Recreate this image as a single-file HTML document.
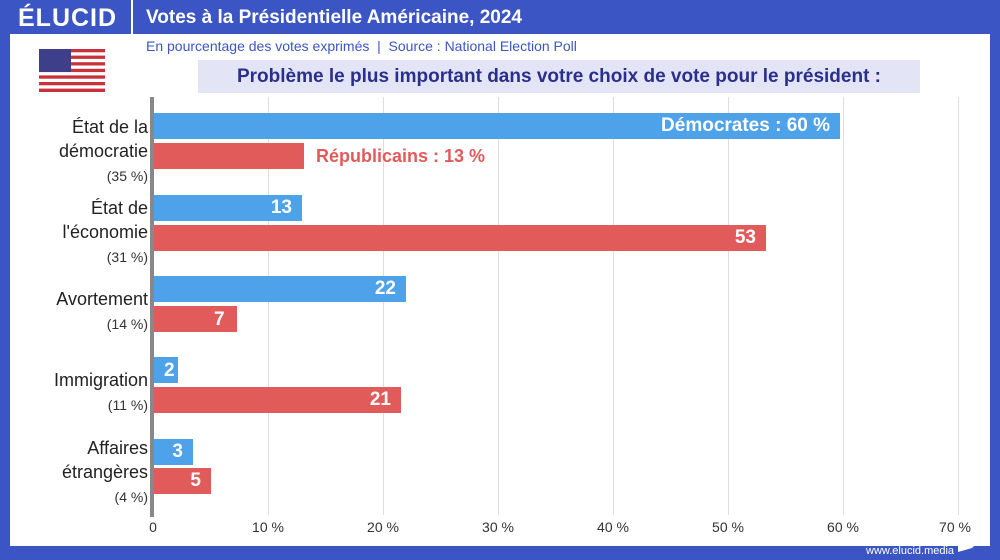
<!DOCTYPE html>
<html><head><meta charset="utf-8"><style>
body{margin:0;width:1000px;height:560px;overflow:hidden;background:#3c55c4;font-family:"Liberation Sans",sans-serif;position:relative}
.frame{position:absolute;left:10px;top:34px;width:980px;height:512px;background:#fff}
.a{position:absolute}
.bar{position:absolute;height:26px}
.b{background:#4da2ea}.r{background:#e25b5b}
.bl{color:#fff;font-weight:bold;font-size:19px;position:absolute;right:10px;top:2px}
.lab{position:absolute;right:852px;text-align:right;color:#222;font-size:18px;line-height:24px}
.lab small{font-size:14px;color:#333}
.grid{position:absolute;top:97px;width:1px;height:418px;background:#ddd}
.tk{position:absolute;top:519px;font-size:14px;color:#333;width:60px;margin-left:-30px;text-align:center}
</style></head><body>
<div class="frame"></div>
<div class="a" style="left:18px;top:4px;color:#fff;font-weight:bold;font-size:25px;letter-spacing:1px">ÉLUCID</div>
<div class="a" style="left:131px;top:0;width:2px;height:34px;background:#fff"></div>
<div class="a" style="left:146px;top:7px;color:#fff;font-weight:bold;font-size:19px">Votes à la Présidentielle Américaine, 2024</div>
<div class="a" style="left:146px;top:38px;color:#3c55c4;font-size:14px">En pourcentage des votes exprimés &nbsp;|&nbsp; Source : National Election Poll</div>
<svg class="a" style="left:39px;top:49px" width="66" height="43"><rect width="66" height="43" fill="#fff"/><g fill="#c8323a"><rect y="0" width="66" height="3.3"/><rect y="6.6" width="66" height="3.3"/><rect y="13.2" width="66" height="3.3"/><rect y="19.8" width="66" height="3.3"/><rect y="26.4" width="66" height="3.3"/><rect y="33" width="66" height="3.3"/><rect y="39.6" width="66" height="3.4"/></g><rect width="32" height="23" fill="#3d3f8a"/></svg>
<div class="a" style="left:198px;top:60px;width:722px;height:33px;background:#e3e5f7;color:#2a2f8c;font-weight:bold;font-size:19px;line-height:33px;text-align:center">Problème le plus important dans votre choix de vote pour le président :</div>
<div class="grid" style="left:268px"></div><div class="grid" style="left:383px"></div><div class="grid" style="left:498px"></div><div class="grid" style="left:613px"></div><div class="grid" style="left:728px"></div><div class="grid" style="left:843px"></div><div class="grid" style="left:958px"></div>
<div class="a" style="left:150px;top:97px;width:4px;height:420px;background:#888"></div>
<div class="tk" style="left:153px">0</div><div class="tk" style="left:268px">10 %</div><div class="tk" style="left:383px">20 %</div><div class="tk" style="left:498px">30 %</div><div class="tk" style="left:613px">40 %</div><div class="tk" style="left:728px">50 %</div><div class="tk" style="left:843px">60 %</div><div class="tk" style="left:955px">70 %</div>

<div class="bar b" style="left:154px;top:113px;width:686px"><span class="bl">Démocrates : 60 %</span></div>
<div class="bar r" style="left:154px;top:143px;width:150px"></div>
<div class="a" style="left:316px;top:146px;color:#e25b5b;font-weight:bold;font-size:18px">Républicains : 13 %</div>
<div class="bar b" style="left:154px;top:195px;width:148px"><span class="bl">13</span></div>
<div class="bar r" style="left:154px;top:225px;width:612px"><span class="bl">53</span></div>
<div class="bar b" style="left:154px;top:276px;width:252px"><span class="bl">22</span></div>
<div class="bar r" style="left:154px;top:306px;width:83px"></div>
<div class="a" style="left:214px;top:309px;color:#fff;font-weight:bold;font-size:19px">7</div>
<div class="bar b" style="left:154px;top:357px;width:24px"></div>
<div class="a" style="left:164px;top:360px;color:#fff;font-weight:bold;font-size:19px">2</div>
<div class="bar r" style="left:154px;top:387px;width:247px"><span class="bl">21</span></div>
<div class="bar b" style="left:154px;top:439px;width:39px"><span class="bl">3</span></div>
<div class="bar r" style="left:154px;top:468px;width:57px"><span class="bl">5</span></div>

<div class="lab" style="top:115px">État de la<br>démocratie<br><small>(35 %)</small></div>
<div class="lab" style="top:196px">État de<br>l'économie<br><small>(31 %)</small></div>
<div class="lab" style="top:287px">Avortement<br><small>(14 %)</small></div>
<div class="lab" style="top:368px">Immigration<br><small>(11 %)</small></div>
<div class="lab" style="top:436px">Affaires<br>étrangères<br><small>(4 %)</small></div>

<div class="a" style="left:866px;top:545px;color:#fff;font-size:11px">www.elucid.media</div>
<svg class="a" style="left:958px;top:538px" width="20" height="16"><polygon points="0,6 20,0 20,4 14,10 0,14" fill="#fff"/></svg>
</body></html>
